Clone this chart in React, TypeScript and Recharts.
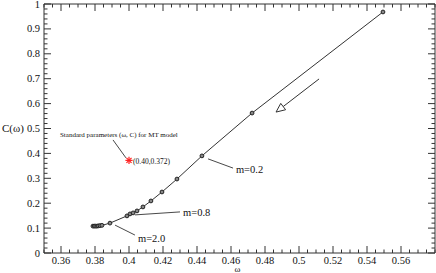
import React from 'react';
import { ComposedChart, Line, Scatter, XAxis, YAxis, ReferenceLine, ReferenceDot, Label } from 'recharts';

// Curve points (omega, C)
const omegaValues = [0.3788, 0.3796, 0.3804, 0.3812, 0.3820, 0.3830, 0.3841, 0.3888, 0.3988, 0.4006, 0.4024, 0.4047, 0.4082, 0.4129, 0.4194, 0.4282, 0.4429, 0.4724, 0.5494];
const cValues = [0.108, 0.108, 0.108, 0.108, 0.109, 0.110, 0.111, 0.120, 0.149, 0.157, 0.161, 0.169, 0.185, 0.209, 0.245, 0.297, 0.390, 0.562, 0.968];

const curve = omegaValues.map((w, i) => ({ w, c: cValues[i] }));

// Standard parameter point
const standardPoint = [{ w: 0.40, c: 0.372 }];

// Tick labels
const xMajorTicks = [0.36, 0.38, 0.4, 0.42, 0.44, 0.46, 0.48, 0.5, 0.52, 0.54, 0.56];
const yMajorTicks = [0, 0.1, 0.2, 0.3, 0.4, 0.5, 0.6, 0.7, 0.8, 0.9, 1];
const xDomain = [0.35, 0.58];
const yDomain = [0, 1];

const xAllTicks: number[] = [];
for (let i = 0; i <= 46; i++) xAllTicks.push(Math.round((0.35 + i * 0.005) * 1000) / 1000);
const yAllTicks: number[] = [];
for (let i = 0; i <= 50; i++) yAllTicks.push(Math.round(i * 0.02 * 100) / 100);

// Annotations: leader lines and texts (data coordinates)
const leaders = [
  { from: [0.3906, 0.454], to: [0.3982, 0.382] },
  { from: [0.4035, 0.153], to: [0.4300, 0.165] },
  { from: [0.3918, 0.112], to: [0.4035, 0.072] },
  { from: [0.4465, 0.378], to: [0.4612, 0.341] },
];
const notes = [
  { w: 0.3594, c: 0.464, text: 'Standard parameters  (ω, C) for MT model', size: 7 },
  { w: 0.4024, c: 0.359, text: '(0.40,0.372)', size: 7.5 },
  { w: 0.4629, c: 0.321, text: 'm=0.2', size: 10.5 },
  { w: 0.4318, c: 0.149, text: 'm=0.8', size: 10.5 },
  { w: 0.4053, c: 0.044, text: 'm=2.0', size: 10.5 },
];
const arrow = { from: [0.5118, 0.699], to: [0.4865, 0.566] };

const FONT = "'Liberation Serif', 'Times New Roman', serif";
const AX = '#333';

const isXMajor = (v: number) => xMajorTicks.some((m) => Math.abs(m - v) < 1e-6);
const isYMajor = (v: number) => yMajorTicks.some((m) => Math.abs(m - v) < 1e-6);
const fmt = (v: number) => String(Number(v.toFixed(3)));

const txtStyle = (size: number) => ({ fontFamily: FONT, fontSize: size });

const BottomTick = (p: any) => {
  const v = p.payload.value;
  const major = isXMajor(v);
  return (
    <g>
      <line x1={p.x} x2={p.x} y1={p.y} y2={p.y - (major ? 7 : 3.5)} stroke={AX} strokeWidth={1} />
      {major && (
        <text x={p.x} y={p.y + 10.5} textAnchor="middle" style={txtStyle(10.5)} fill="#111">
          {fmt(v)}
        </text>
      )}
    </g>
  );
};
const TopTick = (p: any) => {
  const major = isXMajor(p.payload.value);
  return <line x1={p.x} x2={p.x} y1={p.y} y2={p.y + (major ? 7 : 3.5)} stroke={AX} strokeWidth={1} />;
};
const LeftTick = (p: any) => {
  const v = p.payload.value;
  const major = isYMajor(v);
  return (
    <g>
      <line x1={p.x} x2={p.x + (major ? 7 : 3.5)} y1={p.y} y2={p.y} stroke={AX} strokeWidth={1} />
      {major && (
        <text x={p.x - 4} y={p.y + 3.5} textAnchor="end" style={txtStyle(10.5)} fill="#111">
          {fmt(v)}
        </text>
      )}
    </g>
  );
};
const RightTick = (p: any) => {
  const major = isYMajor(p.payload.value);
  return <line x1={p.x} x2={p.x - (major ? 7 : 3.5)} y1={p.y} y2={p.y} stroke={AX} strokeWidth={1} />;
};

const Marker = (p: any) => {
  if (p.cx == null) return null;
  return <circle cx={p.cx} cy={p.cy} r={1.9} stroke="#222" strokeWidth={1} fill="#888" />;
};

const Star = (p: any) => {
  const { cx, cy } = p;
  const r = 3.6;
  const d = r * 0.707;
  return (
    <g stroke="#ff2020" strokeWidth={1.2}>
      <line x1={cx - r} x2={cx + r} y1={cy} y2={cy} />
      <line x1={cx} x2={cx} y1={cy - r} y2={cy + r} />
      <line x1={cx - d} x2={cx + d} y1={cy - d} y2={cy + d} />
      <line x1={cx - d} x2={cx + d} y1={cy + d} y2={cy - d} />
    </g>
  );
};

const ArrowShape = (p: any) => {
  const { x1, y1, x2, y2 } = p;
  const dx = x2 - x1;
  const dy = y2 - y1;
  const len = Math.sqrt(dx * dx + dy * dy) || 1;
  const ux = dx / len;
  const uy = dy / len;
  const nx = -uy;
  const ny = ux;
  const L = 9;
  const W = 4;
  const bx = x2 - L * ux;
  const by = y2 - L * uy;
  return (
    <g>
      <line x1={x1} y1={y1} x2={bx} y2={by} stroke="#333" strokeWidth={1} />
      <polygon
        points={`${x2},${y2} ${bx + W * nx},${by + W * ny} ${bx - W * nx},${by - W * ny}`}
        fill="#fff"
        stroke="#333"
        strokeWidth={1}
      />
    </g>
  );
};

export default function App() {
  return (
    <div style={{ position: 'absolute', left: 0, top: 0, background: '#fff' }}>
      <ComposedChart width={436} height={273} margin={{ top: 3, right: 0, bottom: 0, left: 0 }}>
        <XAxis
          xAxisId="b"
          dataKey="w"
          type="number"
          domain={xDomain}
          allowDataOverflow
          ticks={xAllTicks}
          interval={0}
          height={20}
          tickSize={0}
          tickMargin={0}
          tickLine={false}
          axisLine={{ stroke: AX, strokeWidth: 1 }}
          tick={<BottomTick />}
        >
          <Label
            content={(lp: any) => (
              <text
                x={lp.viewBox.x + lp.viewBox.width / 2 - 2}
                y={272}
                textAnchor="middle"
                style={txtStyle(9)}
                fill="#111"
              >
                ω
              </text>
            )}
          />
        </XAxis>
        <XAxis
          xAxisId="t"
          dataKey="w"
          orientation="top"
          type="number"
          domain={xDomain}
          allowDataOverflow
          ticks={xAllTicks}
          interval={0}
          height={1}
          tickSize={0}
          tickMargin={0}
          tickLine={false}
          axisLine={{ stroke: AX, strokeWidth: 1 }}
          tick={<TopTick />}
        />
        <YAxis
          yAxisId="l"
          type="number"
          domain={yDomain}
          allowDataOverflow
          ticks={yAllTicks}
          interval={0}
          width={44}
          tickSize={0}
          tickMargin={0}
          tickLine={false}
          axisLine={{ stroke: AX, strokeWidth: 1 }}
          tick={<LeftTick />}
        >
          <Label
            content={() => (
              <text x={2} y={132} textAnchor="start" style={txtStyle(11)} fill="#111">
                C(ω)
              </text>
            )}
          />
        </YAxis>
        <YAxis
          yAxisId="r"
          orientation="right"
          type="number"
          domain={yDomain}
          allowDataOverflow
          ticks={yAllTicks}
          interval={0}
          width={1}
          tickSize={0}
          tickMargin={0}
          tickLine={false}
          axisLine={{ stroke: AX, strokeWidth: 1 }}
          tick={<RightTick />}
        />
        {leaders.map((l, i) => (
          <ReferenceLine
            key={'ld' + i}
            xAxisId="b"
            yAxisId="l"
            segment={[
              { x: l.from[0], y: l.from[1] },
              { x: l.to[0], y: l.to[1] },
            ]}
            stroke="#333"
            strokeWidth={0.9}
            ifOverflow="visible"
          />
        ))}
        <ReferenceLine
          xAxisId="b"
          yAxisId="l"
          segment={[
            { x: arrow.from[0], y: arrow.from[1] },
            { x: arrow.to[0], y: arrow.to[1] },
          ]}
          ifOverflow="visible"
          shape={(p: any) => <ArrowShape {...p} />}
        />
        <Line
          xAxisId="b"
          yAxisId="l"
          data={curve}
          dataKey="c"
          type="linear"
          stroke="#333"
          strokeWidth={1}
          dot={<Marker />}
          activeDot={false}
          isAnimationActive={false}
        />
        <Scatter
          xAxisId="b"
          yAxisId="l"
          data={standardPoint}
          dataKey="c"
          shape={(p: any) => <Star {...p} />}
          isAnimationActive={false}
        />
        {notes.map((n, i) => (
          <ReferenceDot
            key={'nt' + i}
            xAxisId="b"
            yAxisId="l"
            x={n.w}
            y={n.c}
            r={0}
            fill="none"
            stroke="none"
            ifOverflow="visible"
            label={{
              content: (lp: any) => (
                <text
                  x={lp.viewBox.x}
                  y={lp.viewBox.y}
                  textAnchor="start"
                  style={txtStyle(n.size)}
                  fill="#111"
                >
                  {n.text}
                </text>
              ),
            }}
          />
        ))}
      </ComposedChart>
    </div>
  );
}
